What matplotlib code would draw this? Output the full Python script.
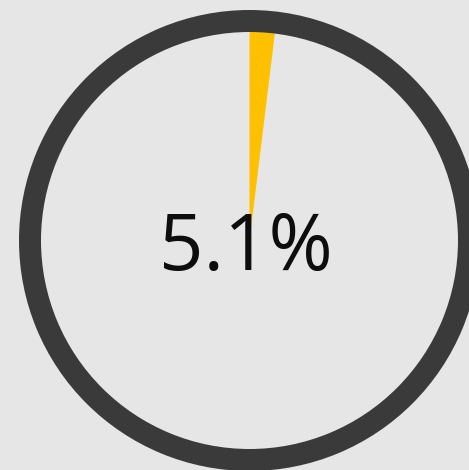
import matplotlib.pyplot as plt
from matplotlib.patches import Wedge

# value shown in the middle, and the share of the circle the yellow slice covers
label_value = 5.1
slice_share = 0.0194
slice_labels = ["highlight", "rest"]

bg = "#e6e6e6"
ring_col = "#3a3a3a"
slice_col = "#ffc000"

fig = plt.figure(figsize=(4.69, 4.70), dpi=100, facecolor=bg)
ax = fig.add_axes([0, 0, 1, 1])
ax.set_facecolor(bg)

cx, cy = 249.5, 240.5
r_out, r_in = 230.5, 208.5

# y axis is flipped (pixel coords), so start at 270 and go counterclockwise
# in data space = clockwise from 12 o'clock on screen
ax.pie([slice_share, 1 - slice_share], colors=[slice_col, "none"],
       startangle=270, counterclock=True, radius=r_in + 2, center=(cx, cy),
       wedgeprops=dict(linewidth=0), frame=True)

# dark ring on top
ax.add_patch(Wedge((cx, cy), r_out, 0, 360, width=r_out - r_in,
                   facecolor=ring_col, edgecolor="none"))

ax.text(cx - 4, cy + 9, f"{label_value}%", ha="center", va="center",
        fontsize=56, color="#0d0d0d", family=["Open Sans", "DejaVu Sans"])

ax.set_xlim(0, 469)
ax.set_ylim(470, 0)
ax.set_aspect("equal")
ax.axis("off")

fig.savefig("out.png", dpi=100, facecolor=bg)
